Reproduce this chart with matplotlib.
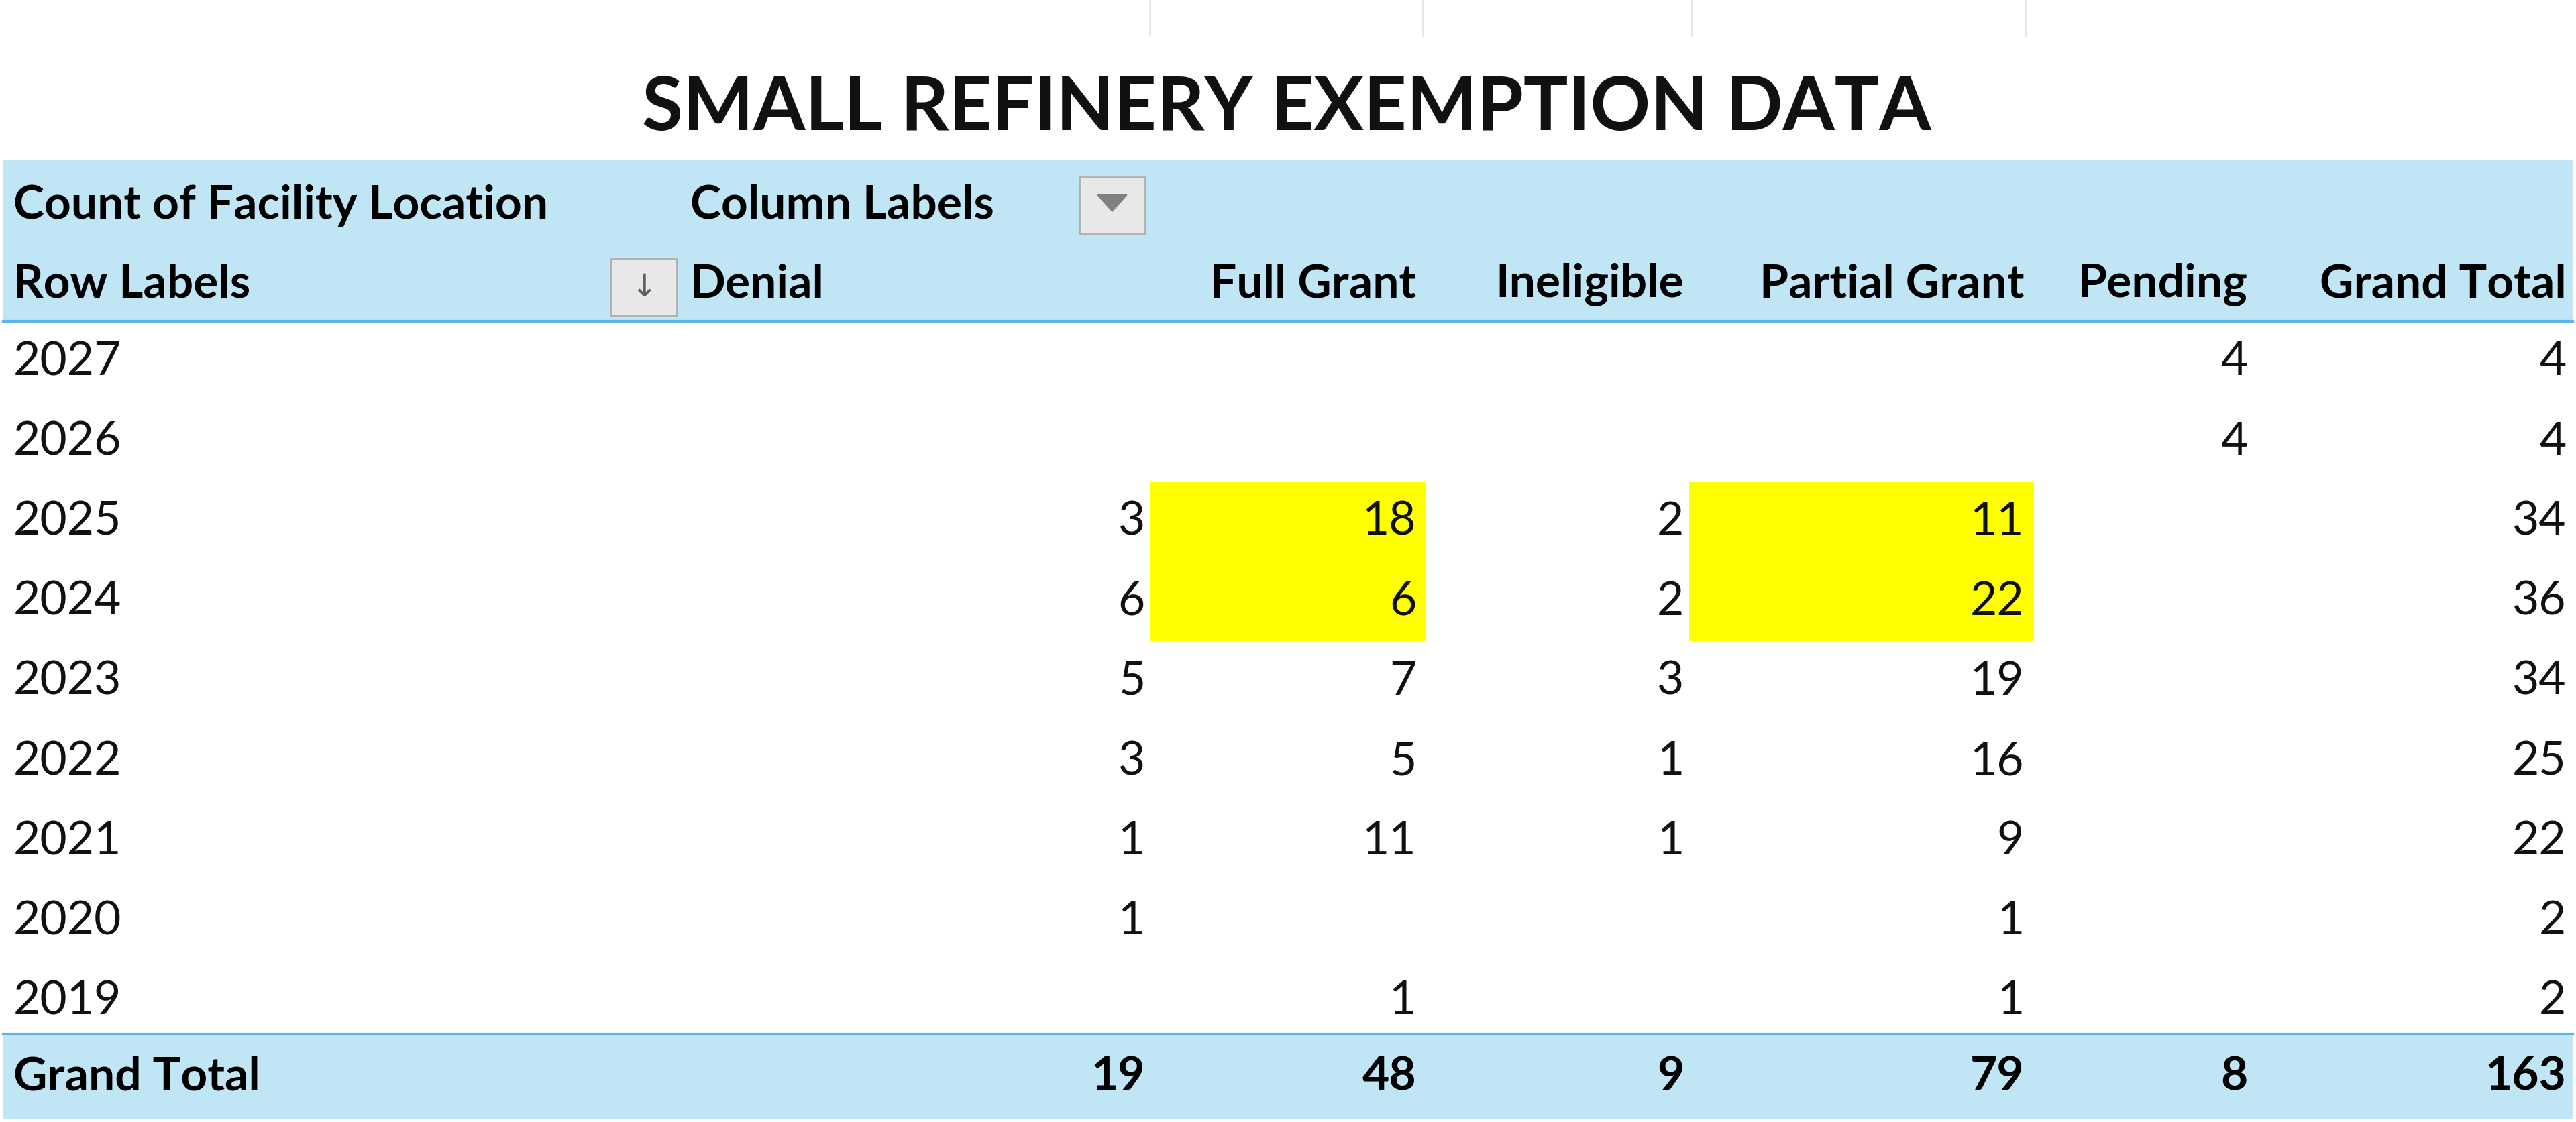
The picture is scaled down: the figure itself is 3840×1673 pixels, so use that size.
import matplotlib.pyplot as plt
from matplotlib.patches import Rectangle

plt.rcParams['font.family'] = ['Lato', 'DejaVu Sans']

title = 'SMALL REFINERY EXEMPTION DATA'
years = ['2027', '2026', '2025', '2024', '2023', '2022', '2021', '2020', '2019']
columns = ['Denial', 'Full Grant', 'Ineligible', 'Partial Grant', 'Pending', 'Grand Total']
denial = [None, None, 3, 6, 5, 3, 1, 1, None]
full_grant = [None, None, 18, 6, 7, 5, 11, None, 1]
ineligible = [None, None, 2, 2, 3, 1, 1, None, None]
partial_grant = [None, None, 11, 22, 19, 16, 9, 1, 1]
pending = [4, 4, None, None, None, None, None, None, None]
grand_total = [4, 4, 34, 36, 34, 25, 22, 2, 2]
column_totals = [19, 48, 9, 79, 8, 163]
highlight = [('Full Grant', '2025'), ('Full Grant', '2024'),
             ('Partial Grant', '2025'), ('Partial Grant', '2024')]

series = [denial, full_grant, ineligible, partial_grant, pending, grand_total]
col_right = [697, 862, 1025, 1232, 1368, 1562]
col_left = [700, 866, 1027, 1233]  # left edges of highlight cells for cols 1..3
row_h = 48.6
row_top0 = 196

fig = plt.figure(figsize=(38.4, 16.74), dpi=100)
ax = fig.add_axes([0, 0, 1, 1])
ax.set_xlim(0, 1568)
ax.set_ylim(683, 0)
ax.axis('off')

blue = '#C0E6F5'
line_blue = '#5BB5E0'
fs = 50

ax.text(783, 66, title, ha='center', va='center', fontsize=80, fontweight='bold', color='#111111')

# faint sheet gridlines above
for x in [700, 866, 1030, 1233]:
    ax.plot([x, x], [0, 22], color='#E6E6E6', lw=2)

# header band
ax.add_patch(Rectangle((2, 98), 1564, 98, color=blue, lw=0))
ax.plot([2, 1566], [196, 196], color=line_blue, lw=3)
ax.text(8, 125, 'Count of Facility Location', va='center', fontsize=fs, fontweight='bold')
ax.text(420, 125, 'Column Labels', va='center', fontsize=fs, fontweight='bold')
ax.add_patch(Rectangle((657, 108), 40, 35, facecolor='#E8E8E8', edgecolor='#B0B0B0', lw=2))
ax.plot([668, 677, 686], [119, 130, 119], color='#7A7A7A', lw=0)
ax.fill([668, 686, 677], [119, 119, 129], color='#808080')
ax.text(8, 173, 'Row Labels', va='center', fontsize=fs, fontweight='bold')
ax.add_patch(Rectangle((372, 158), 40, 34, facecolor='#E8E8E8', edgecolor='#B0B0B0', lw=2))
ax.text(392, 175, '\u2193', ha='center', va='center', fontsize=34, color='#606060', family='DejaVu Sans')
for i, c in enumerate(columns):
    if i == 0:
        ax.text(420, 173, c, va='center', fontsize=fs, fontweight='bold')
    else:
        ax.text(col_right[i], 173, c, ha='right', va='center', fontsize=fs, fontweight='bold')

# highlights
for c, y in highlight:
    ci = columns.index(c)
    ri = years.index(y)
    left = col_right[ci - 1] + 3
    ax.add_patch(Rectangle((left, row_top0 + ri * row_h), col_right[ci] + 6 - left, row_h,
                           color='#FFFF00', lw=0))

# data rows
for ri, y in enumerate(years):
    yc = row_top0 + ri * row_h + row_h / 2
    ax.text(8, yc, y, va='center', fontsize=fs, color='#111111')
    for ci, s in enumerate(series):
        if s[ri] is not None:
            ax.text(col_right[ci], yc, str(s[ri]), ha='right', va='center', fontsize=fs, color='#111111')

# grand total
gt_top = row_top0 + len(years) * row_h - 4
ax.add_patch(Rectangle((2, gt_top), 1564, 683 - gt_top - 2, color=blue, lw=0))
ax.plot([2, 1566], [gt_top, gt_top], color=line_blue, lw=3)
yc = (gt_top + 681) / 2
ax.text(8, yc, 'Grand Total', va='center', fontsize=fs, fontweight='bold')
for ci, v in enumerate(column_totals):
    ax.text(col_right[ci], yc, str(v), ha='right', va='center', fontsize=fs, fontweight='bold')

fig.savefig('out.png', dpi=100)
